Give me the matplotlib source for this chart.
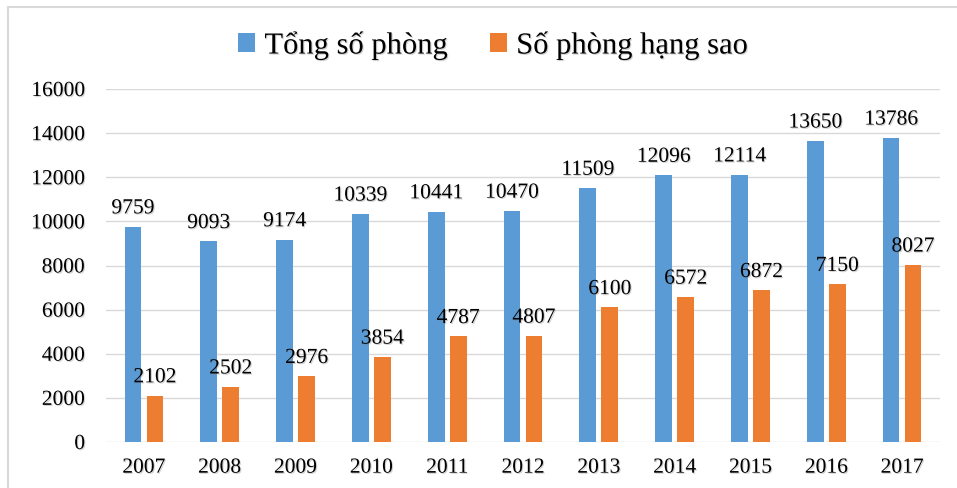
import numpy as np
import matplotlib.pyplot as plt
import matplotlib.patheffects as pe
from matplotlib.patches import Rectangle

years = ['2007', '2008', '2009', '2010', '2011', '2012', '2013', '2014', '2015', '2016', '2017']
tong = [9759, 9093, 9174, 10339, 10441, 10470, 11509, 12096, 12114, 13650, 13786]
hang_sao = [2102, 2502, 2976, 3854, 4787, 4807, 6100, 6572, 6872, 7150, 8027]

plt.rcParams['font.family'] = ['Liberation Serif', 'DejaVu Serif']

# soft shadow on the text, like the original
shadow = [pe.SimplePatchShadow(offset=(0.8, -0.8), shadow_rgbFace='#808080', alpha=0.35), pe.Normal()]

fig = plt.figure(figsize=(9.57, 4.89), dpi=100)
ax = fig.add_axes([106 / 957, 1 - 443 / 489, 834 / 957, 353 / 489])

x = np.arange(len(years))
w = 0.22
b1 = ax.bar(x - 0.145, tong, w, color='#5B9BD5', label='Tổng số phòng', zorder=2)
b2 = ax.bar(x + 0.145, hang_sao, w, color='#ED7D31', label='Số phòng hạng sao', zorder=2)

for rect, v in zip(b1, tong):
    ax.annotate(str(v), (rect.get_x() + rect.get_width() / 2, v), xytext=(0, 6),
                textcoords='offset points', ha='center', va='bottom', fontsize=15.5,
                path_effects=shadow)
for rect, v in zip(b2, hang_sao):
    ax.annotate(str(v), (rect.get_x() + rect.get_width() / 2, v), xytext=(0, 6),
                textcoords='offset points', ha='center', va='bottom', fontsize=15.5,
                path_effects=shadow)

ax.set_xlim(-0.5, len(years) - 0.5)
ax.set_ylim(0, 16000)
ax.set_yticks(range(0, 16001, 2000))
ax.set_xticks(x)
ax.set_xticklabels(years)
ax.tick_params(axis='both', length=0, labelsize=15.5)
ax.tick_params(axis='y', pad=15)
ax.tick_params(axis='x', pad=12)
for lab in ax.get_xticklabels() + ax.get_yticklabels():
    lab.set_path_effects(shadow)
ax.grid(axis='y', color='#d9d9d9', linewidth=1, zorder=0)
for s in ax.spines.values():
    s.set_visible(False)

leg = fig.legend(loc='center', bbox_to_anchor=(493 / 957, 1 - 46 / 489), ncol=2, frameon=False,
                 fontsize=22, handlelength=0.55, handleheight=0.55, handletextpad=0.3,
                 columnspacing=1.4)
for t in leg.get_texts():
    t.set_path_effects(shadow)

# light border round the chart area
fig.add_artist(Rectangle((8 / 957, -0.1), 1.1, (1 - 8 / 489) + 0.1,
                         transform=fig.transFigure, fill=False,
                         edgecolor='#d9d9d9', linewidth=1.5))

fig.savefig('out.png', dpi=100)
